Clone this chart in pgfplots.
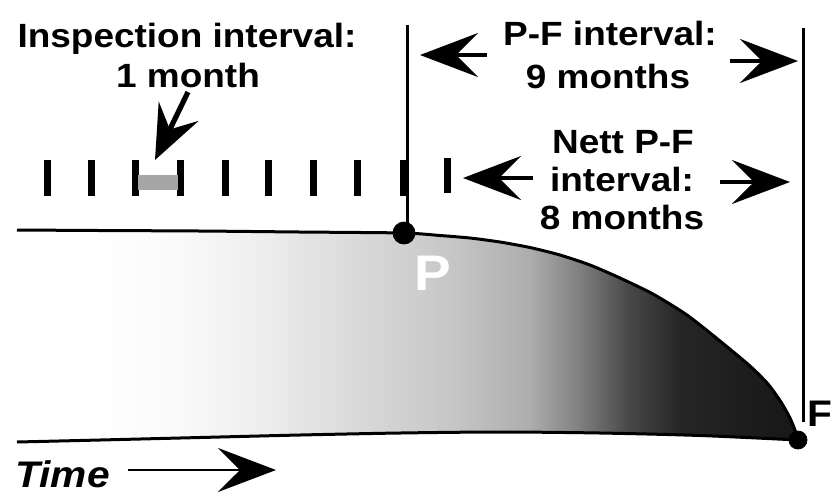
\documentclass[border=0pt]{standalone}
\usepackage{pgfplots}
\pgfplotsset{compat=1.18}
\usetikzlibrary{arrows.meta}
\usepackage{fontspec}
\setmainfont{Liberation Sans}[FakeStretch=1.1]

\pgfdeclarehorizontalshading{pfshade}{100bp}{color(0bp)=(white); color(25bp)=(white); color(30bp)=(white); color(35bp)=(black!2); color(39.9bp)=(black!6); color(46.3bp)=(black!14); color(52.7bp)=(black!22); color(57.8bp)=(black!32); color(61bp)=(black!50); color(64.2bp)=(black!72); color(67.4bp)=(black!85); color(71.9bp)=(black!89); color(75bp)=(black!91); color(100bp)=(black!91)}

\tikzset{bighead/.style={-{Stealth[length=29pt,width=22pt,inset=11pt]}}}

\begin{document}
\begin{tikzpicture}
\begin{axis}[scale only axis, width=416pt, height=247.5pt,
  xmin=0, xmax=832, ymin=0, ymax=495, y dir=reverse,
  hide axis, clip=false, unbounded coords=jump]

% shaded region between the two curves
\addplot[draw=none, shade, shading=pfshade] coordinates {
 (17,230) (100,230.5) (200,231) (300,232) (404,233) (440,235.5) (470,238) (500,242)
 (530,247.5) (560,255) (590,265) (620,278) (653,294) (687,315) (720,341) (750,366)
 (768,384) (781,402) (790,418) (795,430) (798,440)
 (700,435.5) (600,433) (500,432) (400,433) (300,435) (200,437.5) (100,440) (17,442)} -- cycle;

% top curve
\addplot[line width=1.5pt, smooth, tension=0.4] coordinates {
 (17,230) (100,230.5) (200,231) (300,232) (404,233) (440,235.5) (470,238) (500,242)
 (530,247.5) (560,255) (590,265) (620,278) (653,294) (687,315) (720,341) (750,366)
 (768,384) (781,402) (790,418) (795,430) (798,440)};
% bottom line
\addplot[line width=1.5pt, smooth] coordinates {
 (17,442) (100,440) (200,437.5) (300,435) (400,433) (500,432) (600,433) (700,435.5) (798,440)};

% vertical lines
\addplot[line width=1.5pt] coordinates {(407,25) (407,233)};
\addplot[line width=1.5pt] coordinates {(803,28) (803,422)};

% inspection ticks
\addplot[line width=3.5pt] coordinates {
 (47,160) (47,196) (47,nan)
 (91,160) (91,196) (91,nan)
 (135,160) (135,196) (135,nan)
 (180,160) (180,196) (180,nan)
 (225,160) (225,196) (225,nan)
 (268,160) (268,196) (268,nan)
 (313,160) (313,196) (313,nan)
 (357,160) (357,196) (357,nan)
 (403,160) (403,196) (403,nan)
 (447,158) (447,193)};

% one-month interval
\addplot[draw=none, fill=black!35] coordinates {(138,175) (178,175) (178,190) (138,190)} -- cycle;

% arrows
\addplot[line width=2.6pt, -{Stealth[length=27pt,width=22pt,inset=10pt]}] coordinates {(188,92) (155,160)};
\addplot[line width=1.8pt, bighead] coordinates {(487,55) (420,55)};
\addplot[line width=1.8pt, bighead] coordinates {(730,61) (798,61)};
\addplot[line width=1.8pt, bighead] coordinates {(533,178) (463,178)};
\addplot[line width=1.8pt, bighead] coordinates {(720,182) (790,182)};
\addplot[line width=1.3pt, bighead] coordinates {(128,470) (276,470)};

% P and F points
\addplot[only marks, mark=*, mark size=5.5pt, black] coordinates {(404,233)};
\addplot[only marks, mark=*, mark size=4.5pt, black] coordinates {(798,440)};

% texts
\node[anchor=base, font=\bfseries\fontsize{16.8}{20}\selectfont] at (axis cs:187,47) {Inspection interval:};
\node[anchor=base, font=\bfseries\fontsize{16.8}{20}\selectfont] at (axis cs:188,87) {1 month};
\node[anchor=base, font=\bfseries\fontsize{16.8}{20}\selectfont] at (axis cs:610,45) {P-F interval:};
\node[anchor=base, font=\bfseries\fontsize{16.8}{20}\selectfont] at (axis cs:608,88) {9 months};
\node[anchor=base, font=\bfseries\fontsize{16.8}{20}\selectfont] at (axis cs:623,153) {Nett P-F};
\node[anchor=base, font=\bfseries\fontsize{16.8}{20}\selectfont] at (axis cs:622,191) {interval:};
\node[anchor=base, font=\bfseries\fontsize{16.8}{20}\selectfont] at (axis cs:622,229) {8 months};
\node[anchor=base, text=white, font=\bfseries\fontsize{25}{30}\selectfont] at (axis cs:433,290) {P};
\node[anchor=base west, inner sep=0pt, font=\bfseries\fontsize{18.5}{22}\selectfont] at (axis cs:807,426) {F};
\node[anchor=base west, inner sep=0pt, font=\bfseries\itshape\fontsize{18.5}{22}\selectfont] at (axis cs:15,487) {Time};
\end{axis}
\pgfresetboundingbox
\path (current axis.south west) rectangle (current axis.north east);
\end{tikzpicture}
\end{document}
